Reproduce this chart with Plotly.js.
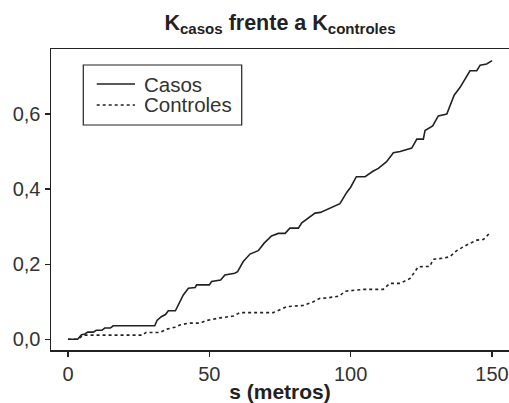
<!DOCTYPE html>
<html>
<head>
<meta charset="utf-8">
<script src="https://cdn.plot.ly/plotly-3.0.1.min.js"></script>
<style>html,body{margin:0;padding:0;background:#fff;}#chart{width:509px;height:403px;}</style>
</head>
<body>
<div id="chart"></div>
<script>
// Casos (solid)
var casosS = [0,3.4,4.8,6,7,9,10,12,13,15,16,30.7,31.5,33,34.5,35.5,38,40.8,42.6,45,45.5,50,50.8,54,55.5,59,60,62,64.4,66.5,67.3,69.4,72,74.4,76.8,78.5,81.5,82.7,87.4,89.3,90.9,93.3,96.2,98.6,100,102,105.1,108,109.8,112.7,115.1,117.5,121.6,123.4,125.7,126.3,129,131,134,136.6,138.7,142.2,144.6,145.8,148.1,150];
var casosK = [0,0,0.012,0.014,0.019,0.019,0.024,0.024,0.03,0.03,0.036,0.036,0.05,0.06,0.066,0.076,0.076,0.118,0.136,0.138,0.145,0.145,0.154,0.158,0.171,0.176,0.18,0.207,0.227,0.233,0.236,0.256,0.275,0.282,0.282,0.296,0.296,0.31,0.336,0.338,0.343,0.351,0.361,0.391,0.405,0.433,0.433,0.448,0.455,0.473,0.497,0.5,0.509,0.533,0.533,0.556,0.568,0.595,0.6,0.65,0.671,0.715,0.715,0.73,0.733,0.742];
// Controles (dotted)
var controlesS = [0,3.5,5.4,26.5,27.5,32.5,34.9,37.8,39.6,42.6,46.7,49,53.8,58.5,60.8,72.6,77.4,83.2,86.8,89.1,91.5,96,98,104.5,111.5,113.9,117.5,121,123.9,128,129.2,132.8,135.1,137.5,141,144.6,147,149.3];
var controlesK = [0,0,0.011,0.011,0.018,0.018,0.027,0.032,0.038,0.043,0.043,0.05,0.057,0.062,0.071,0.071,0.087,0.09,0.1,0.109,0.11,0.115,0.128,0.133,0.133,0.149,0.149,0.162,0.193,0.194,0.213,0.216,0.22,0.236,0.251,0.264,0.266,0.284];
var xTicks = [0,50,100,150];
var yTicks = [0,0.2,0.4,0.6];
var seriesNames = ["Casos","Controles"];

var font = "Liberation Sans, Arial, Helvetica, sans-serif";
var ink = "#222222";
var solidLine = {color: ink, width: 1.6};
var dotLine = {color: ink, width: 1.6, dash: "3px,3px"};

var traces = [
  {x: casosS, y: casosK, name: seriesNames[0], type: "scatter", mode: "lines", line: solidLine},
  {x: controlesS, y: controlesK, name: seriesNames[1], type: "scatter", mode: "lines", line: dotLine}
];

// legend drawn as a framed box with line samples and text (paper coordinates)
var legBox = {x0: 0.0705, x1: 0.4164, y0: 0.7475, y1: 0.9468};
var legRows = [0.8837, 0.814];
var legLineX = [0.0998, 0.1834];
var legTextX = 0.2015;
var shapes = [
  {type: "rect", xref: "paper", yref: "paper", x0: legBox.x0, x1: legBox.x1, y0: legBox.y0, y1: legBox.y1,
   line: {color: ink, width: 1.2}, fillcolor: "#fff", layer: "above"},
  {type: "line", xref: "paper", yref: "paper", x0: legLineX[0], x1: legLineX[1], y0: legRows[0], y1: legRows[0],
   line: solidLine, layer: "above"},
  {type: "line", xref: "paper", yref: "paper", x0: legLineX[0], x1: legLineX[1], y0: legRows[1], y1: legRows[1],
   line: dotLine, layer: "above"}
];
var annotations = seriesNames.map(function (n, i) {
  return {text: n, xref: "paper", yref: "paper", x: legTextX, y: legRows[i], xanchor: "left", yanchor: "middle",
          showarrow: false, font: {family: font, size: 20.5, color: "#333"}, xshift: -1};
});

var layout = {
  width: 509, height: 403,
  margin: {l: 51, r: 0, t: 49, b: 53},
  paper_bgcolor: "#fff", plot_bgcolor: "#fff",
  separators: ",.",
  font: {family: font, color: "#333", size: 20},
  title: {text: "<b>K<sub>casos</sub> frente a K<sub>controles</sub></b>",
          font: {family: font, size: 21.5, color: ink},
          x: 0.5, xref: "paper", xanchor: "center", y: 1 - 22/403, yanchor: "middle"},
  showlegend: false,
  shapes: shapes,
  annotations: annotations,
  xaxis: {range: [-6, 156], tickvals: xTicks, ticks: "outside", ticklen: 5, tickwidth: 1.2,
          tickcolor: ink, showline: true, linecolor: ink, linewidth: 1.5, mirror: true,
          showgrid: false, zeroline: false, tickfont: {family: font, size: 20, color: "#333"},
          title: {text: "<b>s (metros)</b>", font: {family: font, size: 21, color: ink}, standoff: 11}},
  yaxis: {range: [-0.0285, 0.773], tickvals: yTicks, tickformat: ".1f", ticks: "outside", ticklen: 5,
          tickwidth: 1.2, tickcolor: ink, showline: true, linecolor: ink, linewidth: 1.5, mirror: false,
          showgrid: false, zeroline: false, tickfont: {family: font, size: 20, color: "#333"}}
};

Plotly.newPlot("chart", traces, layout, {staticPlot: true, displayModeBar: false});
</script>
</body>
</html>
